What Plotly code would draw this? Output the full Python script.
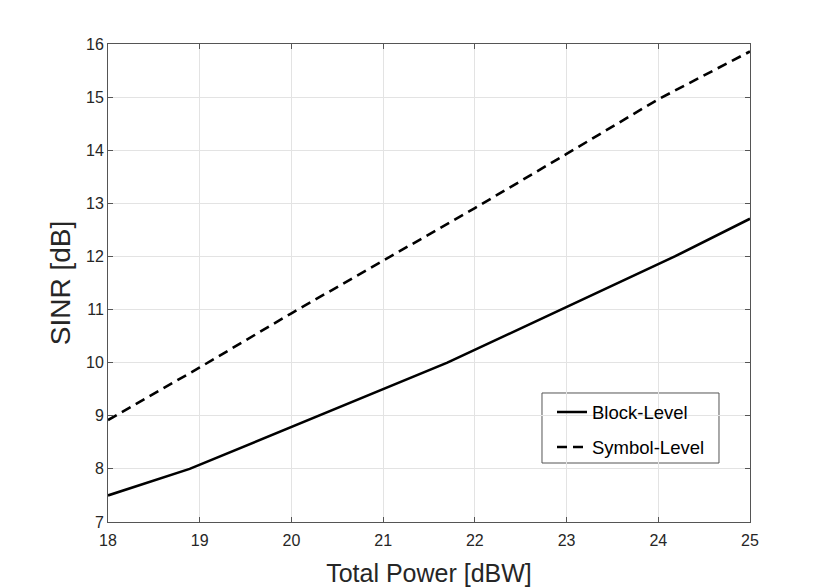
import plotly.graph_objects as go

block_x = [18, 18.89, 21.7, 24.18, 25]
block_y = [7.5, 8.0, 10.0, 12.0, 12.71]

symbol_x = [18, 19, 20, 21, 22, 23, 24, 25]
symbol_y = [8.92, 9.91, 10.93, 11.92, 12.91, 13.93, 14.96, 15.86]

x_ticks = [18, 19, 20, 21, 22, 23, 24, 25]
y_ticks = [7, 8, 9, 10, 11, 12, 13, 14, 15, 16]

FONT = "Liberation Sans, Arial, Helvetica, sans-serif"

fig = go.Figure()
fig.add_trace(go.Scatter(x=block_x, y=block_y, mode="lines", name="Block-Level",
                         legendgroup="a",
                         line=dict(color="black", width=2.6)))
fig.add_trace(go.Scatter(x=symbol_x, y=symbol_y, mode="lines", name="Symbol-Level",
                         legendgroup="b",
                         line=dict(color="black", width=2.6, dash="10px,6px")))

axis_common = dict(
    showline=True, linecolor="#555555", linewidth=1, mirror="ticks",
    ticks="inside", ticklen=5, tickcolor="#555555",
    showgrid=True, gridcolor="#e3e3e3", gridwidth=1, zeroline=False,
    automargin=False,
    tickfont=dict(family=FONT, size=16, color="#262626"),
)

fig.update_xaxes(range=[18, 25], tickvals=x_ticks, ticklabelstandoff=4,
                 title=dict(text="Total Power [dBW]", standoff=17,
                            font=dict(family=FONT, size=25, color="#262626")),
                 **axis_common)
fig.update_yaxes(range=[7, 16], tickvals=y_ticks,
                 title=dict(text="SINR [dB]", standoff=7,
                            font=dict(family=FONT, size=28, color="#262626")),
                 **axis_common)

# legend frame (white box with gray border, MATLAB style)
fig.add_shape(type="rect", xref="paper", yref="paper",
              x0=0.676, x1=0.9517, y0=0.1234, y1=0.2699,
              fillcolor="white", line=dict(color="#555555", width=1),
              layer="between")

fig.update_layout(
    width=822, height=579,
    margin=dict(l=100, r=80, t=36, b=65),
    plot_bgcolor="white", paper_bgcolor="white",
    legend=dict(x=0.6916, y=0.269, xanchor="left", yanchor="top",
                bgcolor="rgba(0,0,0,0)", borderwidth=0,
                tracegroupgap=8,
                font=dict(family=FONT, size=18.5, color="black")),
    showlegend=True,
)

fig.write_html("out.html")
